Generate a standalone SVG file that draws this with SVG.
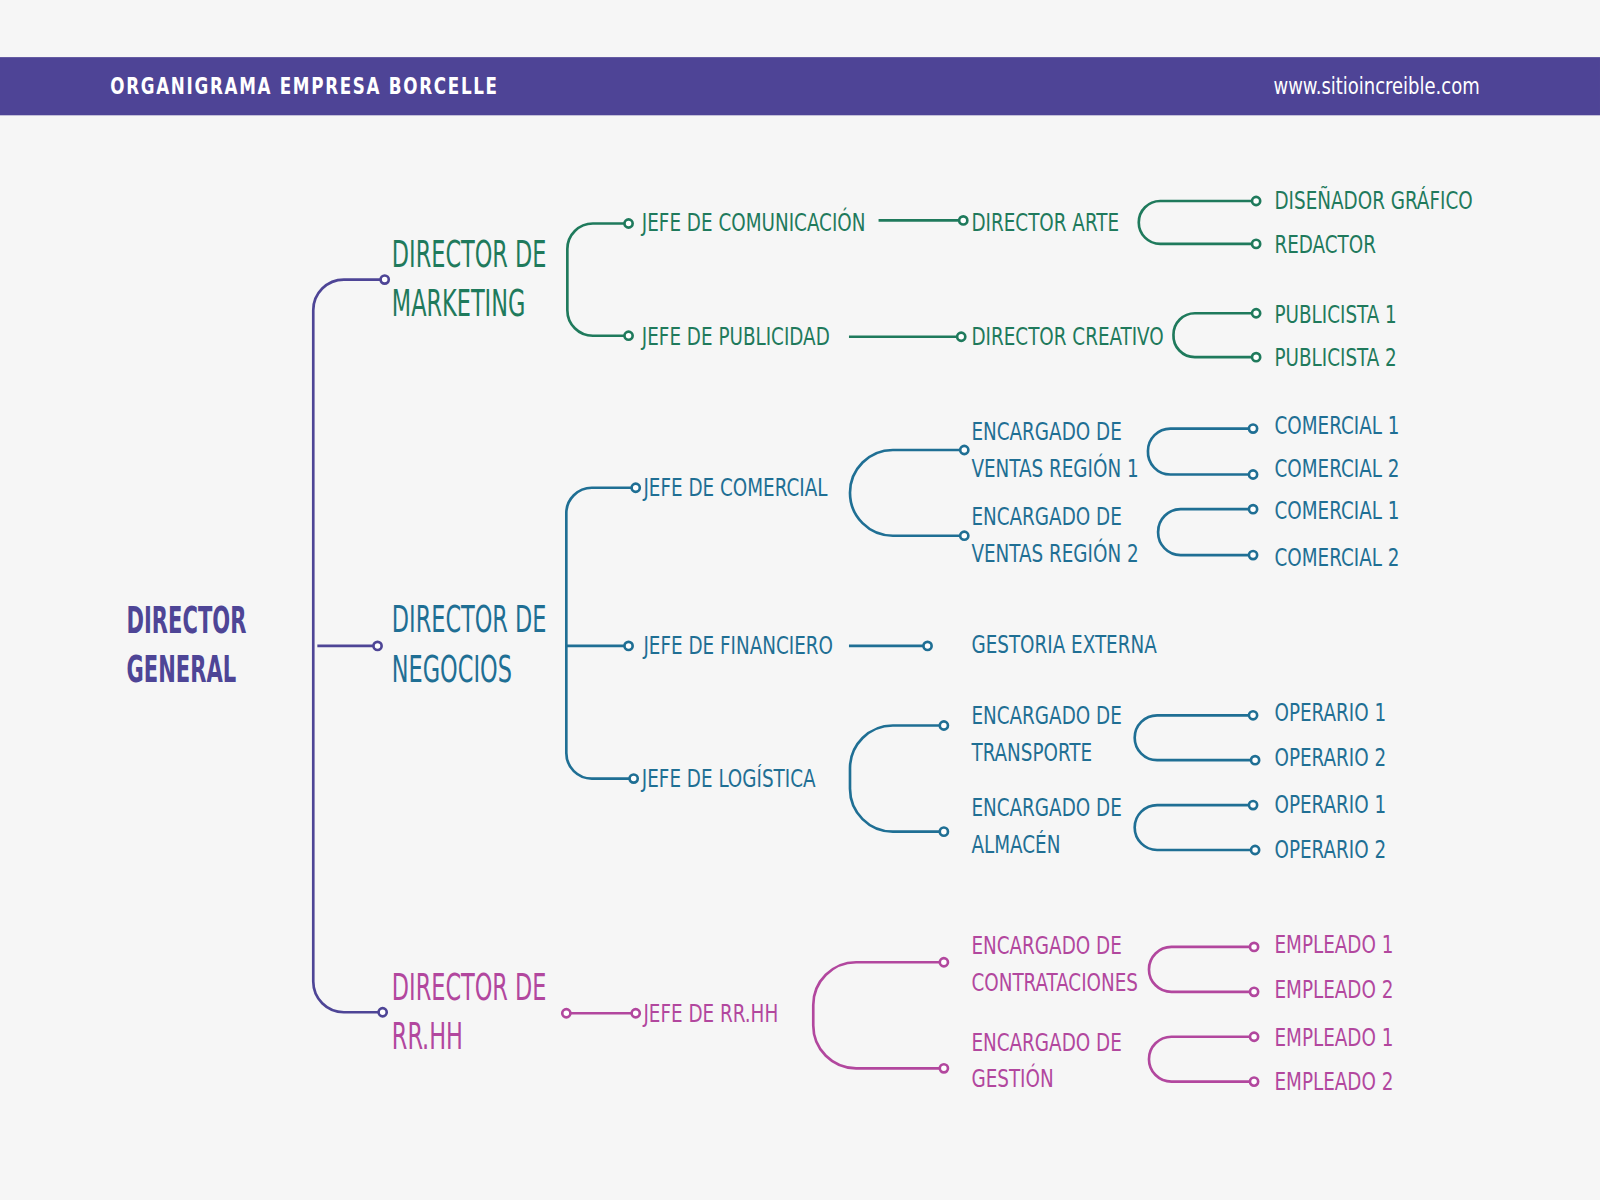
<svg xmlns="http://www.w3.org/2000/svg" width="1600" height="1200" viewBox="0 0 1600 1200">
<style>
text{font-family:"DejaVu Sans Condensed","DejaVu Sans",sans-serif;font-stretch:condensed}
.s{font-size:25px;font-weight:500}.b{font-size:37px}
.g{fill:#1f7a5c}.t{fill:#1f6f94}.m{fill:#b2479e}.p{fill:#4e4596}
path,line{fill:none;stroke-width:2.6}
circle{fill:#fff;stroke-width:2.6}
.G path,.G line,.G circle{stroke:#1f7a5c}
.T path,.T line,.T circle{stroke:#1f6f94}
.M path,.M line,.M circle{stroke:#b2479e}
.P path,.P line,.P circle{stroke:#4e4596}
</style>
<rect width="1600" height="1200" fill="#f6f6f6"/>
<g transform="scale(1.0204)">
<rect x="0" y="56" width="1568" height="57" fill="#4e4496"/>
<text transform="translate(108 92) scale(.83 1)" fill="#fff" font-weight="bold" letter-spacing="2" style="font-size:22px">ORGANIGRAMA EMPRESA BORCELLE</text>
<text transform="translate(1248 92) scale(.89 1)" fill="#fff" style="font-size:22px">www.sitioincreible.com</text>
<g id="connectors">
<g class="P">
<path d="M377 274 H337 A30 30 0 0 0 307 304 V962 A30 30 0 0 0 337 992 H375"/>
<line x1="311" y1="633" x2="370" y2="633"/>
<circle cx="377" cy="274" r="4"/><circle cx="375" cy="992" r="4"/><circle cx="370" cy="633" r="4"/>
</g>
<g class="G">
<path d="M616 219 H581 A25 25 0 0 0 556 244 V304 A25 25 0 0 0 581 329 H616"/>
<circle cx="616" cy="219" r="4"/><circle cx="616" cy="329" r="4"/>
<line x1="861" y1="216" x2="944" y2="216"/><circle cx="944" cy="216" r="4"/>
<line x1="832" y1="330" x2="942" y2="330"/><circle cx="942" cy="330" r="4"/>
<path d="M1231 197 H1137 A21 21 0 0 0 1116 218 A21 21 0 0 0 1137 239 H1231"/>
<circle cx="1231" cy="197" r="4"/><circle cx="1231" cy="239" r="4"/>
<path d="M1231 307 H1171 A21 21 0 0 0 1150 328 A21 21 0 0 0 1171 350 H1231"/>
<circle cx="1231" cy="307" r="4"/><circle cx="1231" cy="350" r="4"/>
</g>
<g class="T">
<path d="M623 478 H580 A25 25 0 0 0 555 503 V738 A25 25 0 0 0 580 763 H621"/>
<line x1="555" y1="633" x2="616" y2="633"/>
<circle cx="623" cy="478" r="4"/><circle cx="621" cy="763" r="4"/><circle cx="616" cy="633" r="4"/>
<path d="M945 441 H875 A42 42 0 0 0 833 483 A42 42 0 0 0 875 525 H945"/>
<circle cx="945" cy="441" r="4"/><circle cx="945" cy="525" r="4"/>
<path d="M1228 420 H1147 A22 22 0 0 0 1125 442 A22 22 0 0 0 1147 465 H1228"/>
<circle cx="1228" cy="420" r="4"/><circle cx="1228" cy="465" r="4"/>
<path d="M1228 499 H1157 A22 22 0 0 0 1135 521 A22 22 0 0 0 1157 544 H1228"/>
<circle cx="1228" cy="499" r="4"/><circle cx="1228" cy="544" r="4"/>
<line x1="832" y1="633" x2="909" y2="633"/><circle cx="909" cy="633" r="4"/>
<path d="M925 711 H875 A42 42 0 0 0 833 753 V773 A42 42 0 0 0 875 815 H925"/>
<circle cx="925" cy="711" r="4"/><circle cx="925" cy="815" r="4"/>
<path d="M1228 701 H1134 A22 22 0 0 0 1112 723 A22 22 0 0 0 1134 745 H1230"/>
<circle cx="1228" cy="701" r="4"/><circle cx="1230" cy="745" r="4"/>
<path d="M1228 789 H1134 A22 22 0 0 0 1112 811 A22 22 0 0 0 1134 833 H1230"/>
<circle cx="1228" cy="789" r="4"/><circle cx="1230" cy="833" r="4"/>
</g>
<g class="M">
<line x1="555" y1="993" x2="623" y2="993"/>
<circle cx="555" cy="993" r="4"/><circle cx="623" cy="993" r="4"/>
<path d="M925 943 H839 A42 42 0 0 0 797 985 V1005 A42 42 0 0 0 839 1047 H925"/>
<circle cx="925" cy="943" r="4"/><circle cx="925" cy="1047" r="4"/>
<path d="M1229 928 H1148 A22 22 0 0 0 1126 950 A22 22 0 0 0 1148 972 H1229"/>
<circle cx="1229" cy="928" r="4"/><circle cx="1229" cy="972" r="4"/>
<path d="M1229 1016 H1148 A22 22 0 0 0 1126 1038 A22 22 0 0 0 1148 1060 H1229"/>
<circle cx="1229" cy="1016" r="4"/><circle cx="1229" cy="1060" r="4"/>
</g>
</g>
<g transform="translate(124 0) scale(.62 1)">
<g id="n-dg"><text class="b p" font-weight="bold" y="620">DIRECTOR</text><text class="b p" font-weight="bold" y="668">GENERAL</text></g>
</g>
<g transform="translate(384 0) scale(.66 1)">
<g id="n-dm"><text class="b g" y="262">DIRECTOR DE</text><text class="b g" y="310">MARKETING</text></g>
<g id="n-dn"><text class="b t" y="619">DIRECTOR DE</text><text class="b t" y="668">NEGOCIOS</text></g>
<g id="n-dr"><text class="b m" y="980">DIRECTOR DE</text><text class="b m" y="1028">RR.HH</text></g>
</g>
<g transform="translate(629 0) scale(.8 1)">
<g id="n-jc"><text class="s g" y="226">JEFE DE COMUNICACIÓN</text></g>
<g id="n-jp"><text class="s g" y="338">JEFE DE PUBLICIDAD</text></g>
<g id="n-jcom"><text class="s t" x="2" y="486">JEFE DE COMERCIAL</text></g>
<g id="n-jf"><text class="s t" x="2" y="641">JEFE DE FINANCIERO</text></g>
<g id="n-jl"><text class="s t" y="771">JEFE DE LOGÍSTICA</text></g>
<g id="n-jr"><text class="s m" x="2" y="1002">JEFE DE RR.HH</text></g>
</g>
<g transform="translate(952 0) scale(.8 1)">
<g id="n-da"><text class="s g" y="226">DIRECTOR ARTE</text></g>
<g id="n-dc"><text class="s g" y="338">DIRECTOR CREATIVO</text></g>
<g id="n-v1"><text class="s t" y="431">ENCARGADO DE</text><text class="s t" y="467">VENTAS REGIÓN 1</text></g>
<g id="n-v2"><text class="s t" y="515">ENCARGADO DE</text><text class="s t" y="551">VENTAS REGIÓN 2</text></g>
<g id="n-ge"><text class="s t" y="640">GESTORIA EXTERNA</text></g>
<g id="n-et"><text class="s t" y="710">ENCARGADO DE</text><text class="s t" y="746">TRANSPORTE</text></g>
<g id="n-ea"><text class="s t" y="800">ENCARGADO DE</text><text class="s t" y="836">ALMACÉN</text></g>
<g id="n-ec"><text class="s m" y="935">ENCARGADO DE</text><text class="s m" y="971">CONTRATACIONES</text></g>
<g id="n-eg"><text class="s m" y="1030">ENCARGADO DE</text><text class="s m" y="1065">GESTIÓN</text></g>
</g>
<g transform="translate(1249 0) scale(.8 1)">
<g id="n-dg1"><text class="s g" y="205">DISEÑADOR GRÁFICO</text></g>
<g id="n-red"><text class="s g" y="248">REDACTOR</text></g>
<g id="n-p1"><text class="s g" y="317">PUBLICISTA 1</text></g>
<g id="n-p2"><text class="s g" y="359">PUBLICISTA 2</text></g>
<g id="n-c1"><text class="s t" y="425">COMERCIAL 1</text></g>
<g id="n-c2"><text class="s t" y="467">COMERCIAL 2</text></g>
<g id="n-c3"><text class="s t" y="509">COMERCIAL 1</text></g>
<g id="n-c4"><text class="s t" y="555">COMERCIAL 2</text></g>
<g id="n-o1"><text class="s t" y="707">OPERARIO 1</text></g>
<g id="n-o2"><text class="s t" y="751">OPERARIO 2</text></g>
<g id="n-o3"><text class="s t" y="797">OPERARIO 1</text></g>
<g id="n-o4"><text class="s t" y="841">OPERARIO 2</text></g>
<g id="n-e1"><text class="s m" y="934">EMPLEADO 1</text></g>
<g id="n-e2"><text class="s m" y="978">EMPLEADO 2</text></g>
<g id="n-e3"><text class="s m" y="1025">EMPLEADO 1</text></g>
<g id="n-e4"><text class="s m" y="1068">EMPLEADO 2</text></g>
</g>
</g>
</svg>
